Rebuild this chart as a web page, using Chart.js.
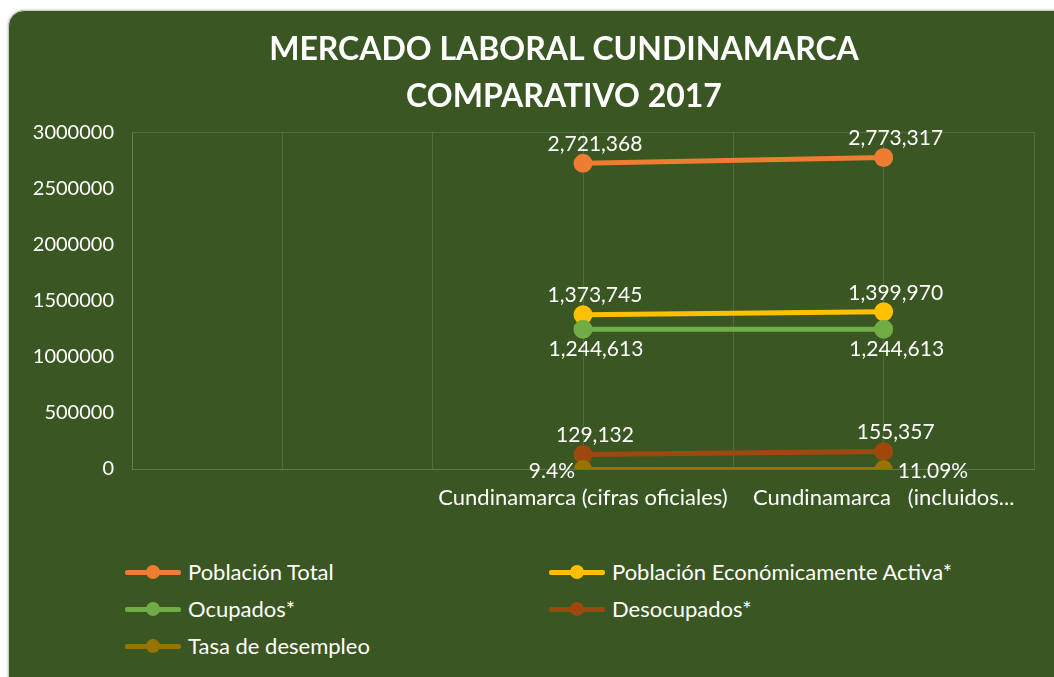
<!DOCTYPE html>
<html>
<head>
<meta charset="utf-8">
<script src="https://cdn.jsdelivr.net/npm/chart.js@4/dist/chart.umd.min.js"></script>
<style>
  html, body { margin: 0; padding: 0; background: #fff; overflow: hidden; }
  .card {
    position: absolute; left: 8px; top: 10px; width: 1120px; height: 700px;
    background: #3a5623; border: 1.5px solid #c9c9c9; border-radius: 16px;
    box-shadow: 0 0 3px rgba(0,0,0,0.25); overflow: hidden;
  }
  #chart { position: absolute; left: 0; top: 0; }
  #legend {
    position: absolute; left: 116px; top: 542px;
    display: grid; grid-template-columns: 424px 424px;
    font-family: Lato, "Open Sans", sans-serif; font-size: 22px; color: #fff;
  }
  .item { display: flex; align-items: center; height: 37px; }
  .mark { position: relative; width: 56px; height: 14px; margin-right: 7px; }
  .mark .ln { position: absolute; left: 0; right: 0; top: 5px; height: 5px; border-radius: 2px; }
  .mark .dot { position: absolute; left: 21px; top: 0; width: 14px; height: 14px; border-radius: 50%; }
</style>
</head>
<body>
<div class="card">
  <canvas id="chart" width="1110" height="520"></canvas>
  <div id="legend"></div>
</div>
<script>
// categories (the empty ones are spacer slots on the axis)
const categories = ['', '', '', 'Cundinamarca (cifras oficiales)', '', 'Cundinamarca   (incluidos...', ''];
const seriesNames = ['Población Total', 'Población Económicamente Activa*', 'Ocupados*', 'Desocupados*', 'Tasa de desempleo'];
const poblacionTotal = [null, null, null, 2721368, null, 2773317, null];
const pea = [null, null, null, 1373745, null, 1399970, null];
const ocupados = [null, null, null, 1244613, null, 1244613, null];
const desocupados = [null, null, null, 129132, null, 155357, null];
const tasaDesempleo = [null, null, null, 0.094, null, 0.1109, null];
const yTicks = [0, 500000, 1000000, 1500000, 2000000, 2500000, 3000000];

const colors = ['#ed7d31', '#ffc000', '#70ad47', '#9e480e', '#997300'];
const labelPos = [['top', 'top'], ['top', 'top'], ['bottom', 'bottom'], ['top', 'top'], ['left', 'right']];
const values = [poblacionTotal, pea, ocupados, desocupados, tasaDesempleo];

const FONT = 'Lato, "Open Sans", sans-serif';

const dataLabels = {
  id: 'dataLabels',
  afterDatasetsDraw(chart) {
    const ctx = chart.ctx;
    ctx.save();
    ctx.font = '21px ' + FONT;
    ctx.fillStyle = '#ffffff';
    ctx.textBaseline = 'middle';
    chart.data.datasets.forEach((ds, di) => {
      const meta = chart.getDatasetMeta(di);
      let k = 0;
      meta.data.forEach((pt, i) => {
        const v = ds.data[i];
        if (v == null) return;
        const pos = ds.labelPos[k++];
        const txt = ds.isRate ? parseFloat((v * 100).toFixed(2)) + '%' : v.toLocaleString('en-US');
        if (pos === 'top') { ctx.textAlign = 'center'; ctx.fillText(txt, pt.x + 12, pt.y - 19); }
        else if (pos === 'bottom') { ctx.textAlign = 'center'; ctx.fillText(txt, pt.x + 13, pt.y + 20); }
        else if (pos === 'left') { ctx.textAlign = 'right'; ctx.fillText(txt, pt.x - 8, pt.y + 2); }
        else { ctx.textAlign = 'left'; ctx.fillText(txt, pt.x + 14, pt.y + 2); }
      });
    });
    ctx.restore();
  }
};

const chart = new Chart(document.getElementById('chart'), {
  type: 'line',
  data: {
    labels: categories,
    datasets: seriesNames.map((name, i) => ({
      label: name,
      data: values[i],
      isRate: i === 4,
      labelPos: labelPos[i],
      borderColor: colors[i],
      backgroundColor: colors[i],
      pointBackgroundColor: colors[i],
      pointBorderColor: colors[i],
      borderWidth: i === 4 ? 4 : 5,
      pointRadius: 7,
      spanGaps: true,
      tension: 0
    })).reverse() // first series ends up underneath, like the original
  },
  options: {
    responsive: false,
    animation: false,
    layout: { padding: 0 },
    plugins: {
      legend: { display: false },
      tooltip: { enabled: false },
      title: {
        display: true,
        text: ['MERCADO LABORAL CUNDINAMARCA', 'COMPARATIVO 2017'],
        color: '#ffffff',
        font: { family: FONT, size: 32, weight: 'bold', lineHeight: 1.47 },
        padding: { top: 15, bottom: 12 }
      }
    },
    scales: {
      x: {
        offset: false,
        grid: { color: 'rgba(255,255,255,0.13)', drawTicks: false, lineWidth: 1 },
        border: { color: 'rgba(255,255,255,0.2)' },
        ticks: { color: '#ffffff', font: { family: FONT, size: 22 }, autoSkip: false, maxRotation: 0, minRotation: 0, padding: 16 },
        afterFit(s) { s.height = 62; }
      },
      y: {
        min: 0, max: 3000000,
        afterBuildTicks(s) { s.ticks = yTicks.map(v => ({ value: v })); },
        grid: {
          drawTicks: false,
          color: c => (c.tick && c.tick.value === 3000000) ? 'rgba(255,255,255,0.13)' : 'rgba(0,0,0,0)'
        },
        border: { color: 'rgba(255,255,255,0.13)' },
        ticks: { color: '#ffffff', font: { family: FONT, size: 20 }, padding: 18, callback: v => String(v) },
        afterFit(s) { s.width = 123; }
      },
      // empty spacer on the right so the title centres like the original
      yPad: {
        position: 'right',
        min: 0, max: 3000000,
        grid: { display: false },
        border: { display: false },
        ticks: { display: false },
        afterFit(s) { s.width = 85; }
      }
    }
  },
  plugins: [dataLabels]
});

// legend built from the series, in original order
const legend = document.getElementById('legend');
seriesNames.forEach((name, i) => {
  const it = document.createElement('div');
  it.className = 'item';
  it.innerHTML = '<span class="mark"><span class="ln" style="background:' + colors[i] + '"></span>' +
    '<span class="dot" style="background:' + colors[i] + '"></span></span><span>' + name + '</span>';
  legend.appendChild(it);
});
</script>
</body>
</html>
